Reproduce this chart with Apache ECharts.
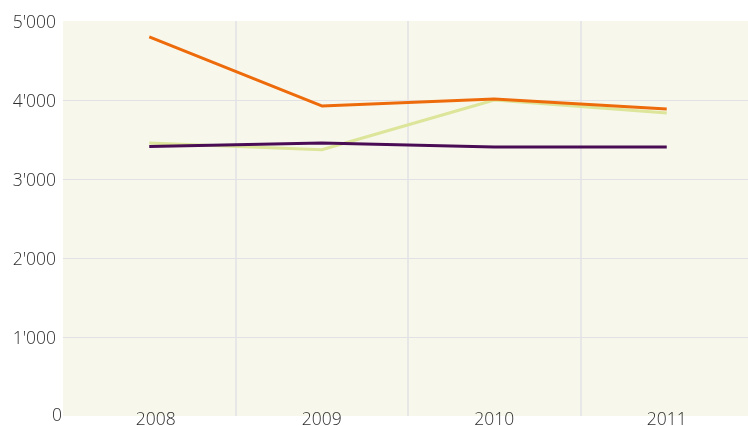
<!DOCTYPE html>
<html>
<head>
<meta charset="utf-8">
<script src="https://cdn.jsdelivr.net/npm/echarts@6/dist/echarts.min.js"></script>
<style>html,body{margin:0;padding:0;background:#fff;}#c{width:748px;height:426px;}</style>
</head>
<body>
<div id="c"></div>
<script>
var categories = ['2008', '2009', '2010', '2011'];
var seriesGreen = [3455, 3370, 4000, 3835];
var seriesOrange = [4800, 3925, 4013, 3885];
var seriesPurple = [3410, 3455, 3405, 3405];
var yTicks = [0, 1000, 2000, 3000, 4000, 5000];

function fmt(v) {
  return String(v).replace(/\B(?=(\d{3})+(?!\d))/g, "'");
}

var labelFont = {fontFamily: 'Open Sans', fontWeight: 300, fontSize: 17.5, color: '#2e2e2e'};
var gridColor = '#e2e2e6';

var chart = echarts.init(document.getElementById('c'), null, {renderer: 'canvas'});
chart.setOption({
  animation: false,
  grid: {left: 63, right: -5, top: 21, bottom: 10, show: true, backgroundColor: '#f7f8eb', borderWidth: 0, borderColor: 'rgba(0,0,0,0)', outerBoundsMode: 'none', containLabel: false},
  xAxis: {
    type: 'category',
    data: categories,
    boundaryGap: true,
    axisLine: {show: false},
    axisTick: {show: false},
    splitLine: {show: true, interval: 0, lineStyle: {color: ['rgba(0,0,0,0)', gridColor, gridColor, gridColor, gridColor], width: 1.5}},
    axisLabel: Object.assign({
      margin: -5,
      formatter: function (v, i) { return i === 0 ? '{f|' + v + '}' : v; },
      rich: {f: Object.assign({padding: [0, 0, 0, 13]}, labelFont)}
    }, labelFont)
  },
  yAxis: {
    type: 'value',
    min: yTicks[0],
    max: yTicks[yTicks.length - 1],
    interval: 1000,
    axisLine: {show: false},
    axisTick: {show: false},
    splitLine: {show: true, showMinLine: false, showMaxLine: false, lineStyle: {color: gridColor, width: 1}},
    axisLabel: Object.assign({
      margin: 1,
      formatter: function (v) { return v === 0 ? '{z|0}' : '{a|' + fmt(v) + '}'; },
      rich: {
        a: Object.assign({padding: [5, 6, 0, 0]}, labelFont),
        z: Object.assign({padding: [0, 0, 0, 0]}, labelFont)
      }
    }, labelFont)
  },
  series: [
    {type: 'line', data: seriesGreen, symbol: 'none', lineStyle: {color: '#dce59a', width: 3}, z: 2},
    {type: 'line', data: seriesOrange, symbol: 'none', lineStyle: {color: '#ee6b0c', width: 3}, z: 3},
    {type: 'line', data: seriesPurple, symbol: 'none', lineStyle: {color: '#4a0d55', width: 3}, z: 4}
  ]
});
</script>
</body>
</html>
